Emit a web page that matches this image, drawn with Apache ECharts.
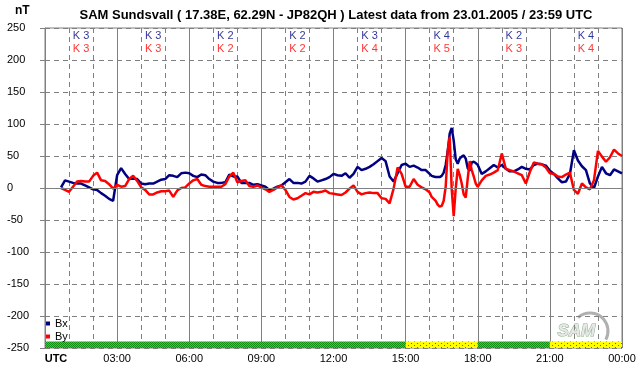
<!DOCTYPE html>
<html>
<head>
<meta charset="utf-8">
<script src="https://cdn.jsdelivr.net/npm/echarts/dist/echarts.min.js"></script>
<style>
  html, body { margin: 0; padding: 0; background: #fff; }
  #chart { width: 642px; height: 376px; }
</style>
</head>
<body>
<div id="chart"></div>
<script>
// minutes after 00:00 UTC
const minutes = [
  40, 50, 60, 70, 80, 90, 100, 110, 120, 130, 140, 150, 160, 170,
  180, 190, 200, 210, 220, 230, 240, 250, 260, 270, 280, 290,
  300, 310, 320, 330, 340, 350, 360, 370, 380, 390, 400, 410,
  420, 430, 440, 450, 460, 470, 480, 490, 500, 510, 520, 530,
  540, 550, 560, 570, 580, 590, 600, 610, 620, 630, 640, 650,
  660, 670, 680, 690, 700, 710, 720, 730, 740, 750, 760, 770,
  780, 790, 800, 810, 820, 830, 840, 850, 860, 870, 880, 890,
  900, 910, 920, 930, 940, 950, 960, 965, 970, 975, 980, 985,
  990, 995, 1000, 1005, 1010, 1015, 1020, 1025, 1030, 1035, 1040, 1045,
  1050, 1055, 1060, 1065, 1070, 1075, 1080, 1090, 1100, 1110, 1120, 1130,
  1140, 1150, 1160, 1170, 1180, 1190, 1200, 1210, 1220, 1230, 1240, 1250,
  1260, 1270, 1280, 1290, 1300, 1310, 1320, 1330, 1340, 1350, 1360, 1370,
  1380, 1390, 1400, 1410, 1420, 1430, 1440
];
const bx = [
  1, 12, 10, 8, 7, 7, 4, 1, -2, -3, -8, -12, -17, -20,
  20, 31, 22, 14, 15, 14, 7, 6, 7, 7, 10, 13,
  14, 20, 19, 17, 23, 24, 23, 19, 17, 21, 20, 14,
  10, 8, 8, 9, 21, 18, 18, 8, 8, 8, 5, 6,
  4, 2, -3, -1, 2, 4, 9, 14, 8, 8, 7, 10,
  19, 15, 10, 12, 14, 17, 22, 20, 19, 23, 16, 22,
  33, 28, 30, 33, 37, 42, 47, 42, 18, 10, 23, 36,
  38, 33, 35, 32, 28, 28, 22, 19, 18, 17, 17, 17,
  19, 24, 36, 57, 85, 94, 74, 45, 38, 46, 49, 51,
  46, 31, 27, 40, 41, 39, 36, 22, 26, 31, 36, 32,
  36, 30, 26, 26, 29, 33, 30, 29, 36, 38, 37, 35,
  27, 22, 15, 9, 10, 22, 59, 43, 34, 28, 7, 0,
  18, 33, 23, 20, 29, 26, 23
];
const by = [
  0, -3, -6, 2, 10, 11, 10, 10, 19, 24, 12, 11, 6, -1,
  5, 2, 3, 14, 19, 11, 1, -3, -10, -10, -7, -5,
  -5, -4, -14, -4, 0, 1, 7, 12, 14, 5, 3, 2,
  2, 2, 2, 6, 18, 24, 9, 11, 12, 3, 2, 4,
  1, -2, -6, -3, 1, 4, -3, -14, -18, -16, -12, -8,
  -10, -6, -7, -6, -4, -8, -9, -10, -11, -7, -1, 4,
  -6, -10, -8, -7, -8, -8, -16, -17, -24, -1, 32, 22,
  2, 2, 14, 5, 1, -2, -7, -14, -17, -20, -26, -29,
  -28, -20, 2, 57, 80, -2, -44, -1, 30, 20, 7, -10,
  -15, 15, 42, 28, 18, 7, 2, 12, 19, 21, 24, 28,
  54, 30, 28, 26, 23, 20, 7, 25, 40, 38, 37, 32,
  23, 22, 18, 17, 21, 24, -3, -9, 7, 1, -2, 12,
  58, 49, 41, 48, 60, 54, 50
];
// K indices for each 3-hour block
const kBx = [3, 3, 2, 2, 3, 4, 2, 4];
const kBy = [3, 3, 2, 2, 4, 5, 3, 4];
// activity band along the bottom (hours)
const bandFrom = [0, 15, 18, 21];
const bandTo = [15, 18, 21, 24];
const bandLevel = ['quiet', 'active', 'quiet', 'active'];

const FONT = 'Liberation Sans, Arial, sans-serif';
const GRID_GRAY = '#808080';
const NAVY = '#000080';
const RED = '#ff0000';

function makePattern(base, dot, w, h, dots) {
  const c = document.createElement('canvas');
  c.width = w; c.height = h;
  const g = c.getContext('2d');
  g.fillStyle = base; g.fillRect(0, 0, w, h);
  g.fillStyle = dot;
  dots.forEach(d => g.fillRect(d[0], d[1], 1, 1));
  return { image: c, repeat: 'repeat' };
}
const greenFill = makePattern('#2ad62a', '#109010', 2, 2, [[0, 0], [1, 1]]);
const yellowFill = makePattern('#ffff00', '#ff2020', 6, 4, [[0, 1], [3, 3]]);

const toHour = m => m / 60;
const bxData = minutes.map((m, i) => [toHour(m), bx[i]]);
const byData = minutes.map((m, i) => [toHour(m), by[i]]);
const kBxData = kBx.map((k, i) => ({ value: [1.5 + 3 * i, 237], k: k }));
const kByData = kBy.map((k, i) => ({ value: [1.5 + 3 * i, 218], k: k }));
const bandData = bandFrom.map((f, i) => [f, bandTo[i], bandLevel[i] === 'active' ? 1 : 0]);

const chart = echarts.init(document.getElementById('chart'), null, { renderer: 'canvas' });

const kSeries = (name, data, color) => ({
  name: name,
  type: 'scatter',
  symbolSize: 1,
  z: 5,
  itemStyle: { color: 'rgba(0,0,0,0)' },
  data: data,
  label: {
    show: true,
    position: 'inside',
    color: color,
    fontFamily: FONT,
    fontSize: 11,
    formatter: p => 'K ' + p.data.k
  }
});

chart.setOption({
  animation: false,
  backgroundColor: '#fff',
  textStyle: { fontFamily: FONT },
  title: {
    text: 'SAM Sundsvall ( 17.38E, 62.29N - JP82QH ) Latest data from 23.01.2005 / 23:59 UTC',
    left: 331,
    top: 4,
    textAlign: 'center',
    textStyle: { fontFamily: FONT, fontSize: 13, fontWeight: 'bold', color: '#000' }
  },
  graphic: [
    { type: 'text', left: 15, top: 5,
      style: { text: 'nT', font: 'bold 12px ' + FONT, fill: '#000' } },
    { type: 'arc', shape: { cx: 590, cy: 331, r: 18, startAngle: -2.3, endAngle: 0.5 },
      style: { stroke: '#b0b0b0', lineWidth: 3, fill: null }, silent: true },
    { type: 'text', left: 557, top: 322,
      style: { text: 'SAM', font: 'italic bold 17px ' + FONT, fill: '#e8e8e8', stroke: '#88b088', lineWidth: 1 } }
  ],
  legend: {
    data: ['Bx', 'By'],
    orient: 'vertical',
    left: 46,
    top: 318,
    itemWidth: 4,
    itemHeight: 4,
    itemGap: 2,
    icon: 'rect',
    padding: 0,
    textStyle: { fontFamily: FONT, fontSize: 11, color: '#000' }
  },
  grid: {
    left: 45, right: 20, top: 28, bottom: 28,
    show: true, borderColor: GRID_GRAY, borderWidth: 1
  },
  xAxis: {
    type: 'value',
    min: 0, max: 24, interval: 3,
    axisLine: { show: true, lineStyle: { color: GRID_GRAY } },
    axisTick: { show: true, length: 3, lineStyle: { color: GRID_GRAY } },
    axisLabel: {
      margin: 5,
      color: '#000',
      fontFamily: FONT,
      fontSize: 11,
      formatter: v => {
        if (v === 0) return '{u|UTC}';
        const h = v % 24;
        return (h < 10 ? '0' : '') + h + ':00';
      },
      rich: { u: { fontWeight: 'bold', fontSize: 11, fontFamily: FONT, padding: [0, 0, 0, 22] } }
    },
    splitLine: { show: true, lineStyle: { color: GRID_GRAY, width: 1, type: 'solid' } },
    minorTick: { show: false, splitNumber: 3 },
    minorSplitLine: { show: true, lineStyle: { color: GRID_GRAY, width: 1, type: [5, 4] } }
  },
  yAxis: {
    type: 'value',
    min: -250, max: 250, interval: 50,
    axisLine: { show: true, lineStyle: { color: GRID_GRAY } },
    axisTick: { show: true, length: 5, lineStyle: { color: GRID_GRAY } },
    axisLabel: { align: 'left', margin: 38, color: '#000', fontFamily: FONT, fontSize: 11 },
    splitLine: { show: true, lineStyle: { color: GRID_GRAY, width: 1, type: [5, 4] } }
  },
  series: [
    {
      name: 'zero',
      type: 'line',
      data: [],
      z: 1,
      markLine: {
        silent: true,
        symbol: 'none',
        label: { show: false },
        lineStyle: { color: GRID_GRAY, type: 'solid', width: 1 },
        data: [{ yAxis: 0 }]
      }
    },
    {
      name: 'band',
      type: 'custom',
      z: 2,
      data: bandData,
      renderItem: (params, api) => {
        const a = api.coord([api.value(0), -240]);
        const b = api.coord([api.value(1), -250]);
        return {
          type: 'rect',
          shape: { x: a[0], y: a[1], width: b[0] - a[0], height: b[1] - a[1] },
          style: { fill: api.value(2) ? yellowFill : greenFill }
        };
      }
    },
    {
      name: 'Bx',
      type: 'line',
      z: 3,
      data: bxData,
      showSymbol: false,
      color: NAVY,
      lineStyle: { color: NAVY, width: 2.5 }
    },
    {
      name: 'By',
      type: 'line',
      z: 4,
      data: byData,
      showSymbol: false,
      color: RED,
      lineStyle: { color: RED, width: 2.5 }
    },
    kSeries('kx', kBxData, NAVY),
    kSeries('ky', kByData, RED)
  ]
});
</script>
</body>
</html>
